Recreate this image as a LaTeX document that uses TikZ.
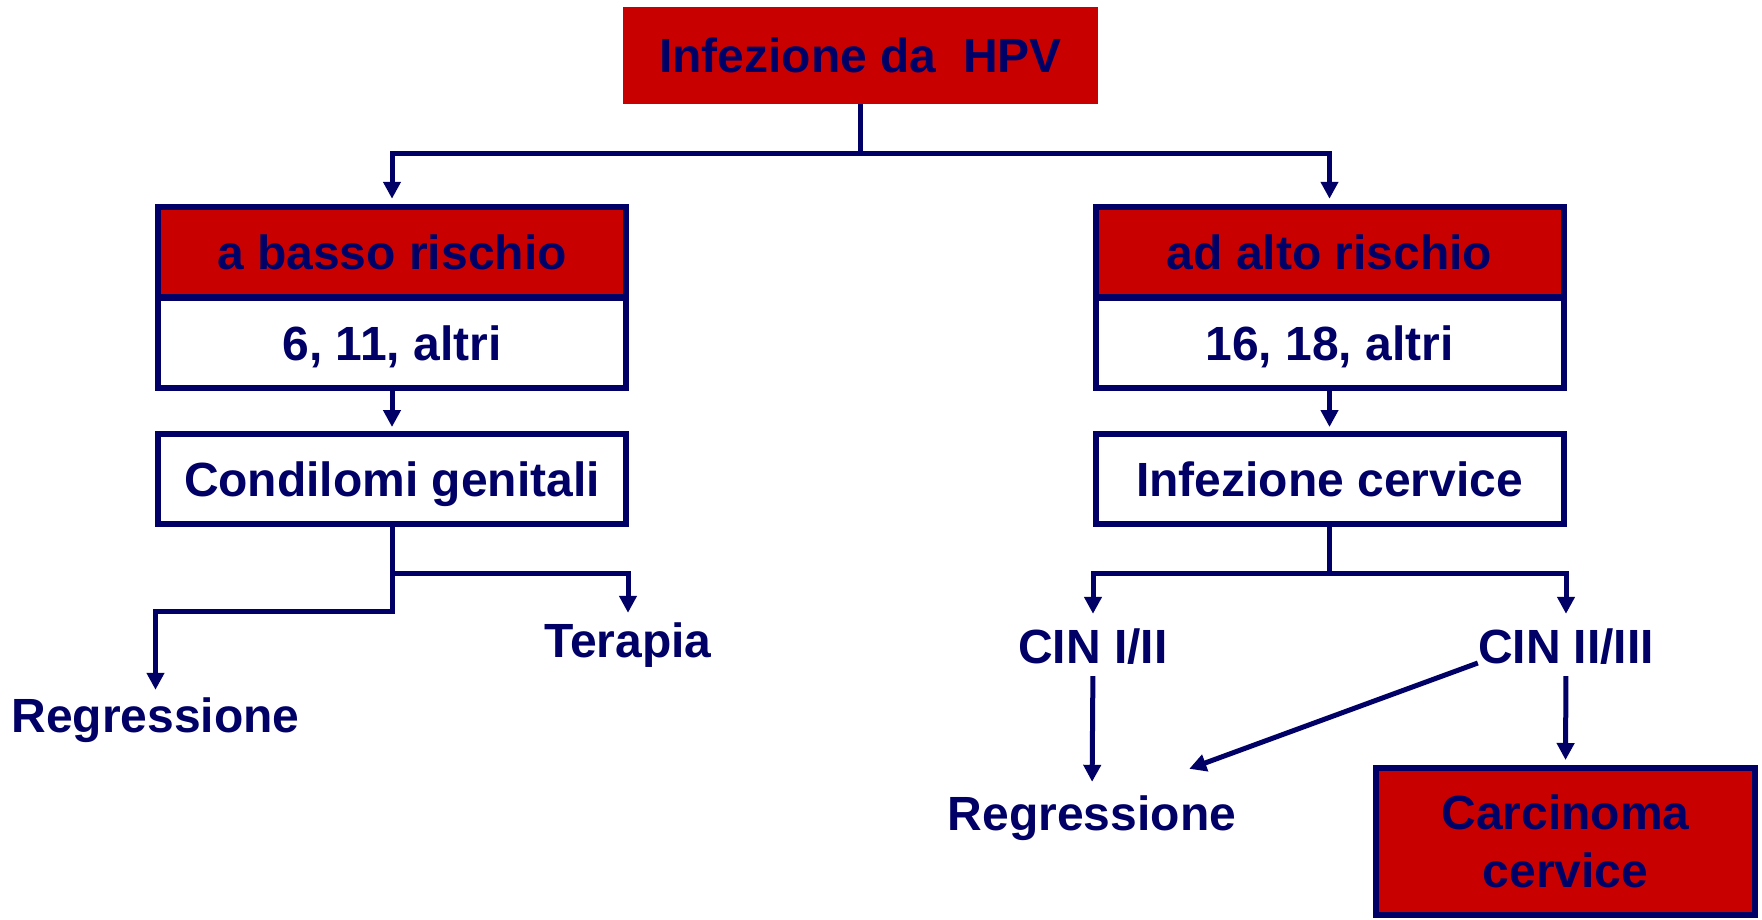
\documentclass[tikz,border=0pt]{standalone}
\usepackage{fontspec}
\setmainfont{Liberation Sans}
\usetikzlibrary{arrows.meta}
\definecolor{hred}{HTML}{C80000}
\definecolor{navy}{HTML}{000066}
\begin{document}
\begin{tikzpicture}[x=1pt,y=-1pt,
  every node/.style={font=\fontsize{48}{58}\selectfont\bfseries, text=navy, inner sep=0pt},
  lbl/.style={text height=34pt, text depth=0pt, anchor=base},
  box/.style={draw=navy, line width=6pt, fill=white, text height=34pt, text depth=0pt, minimum width=468pt, minimum height=90.5pt},
  hdr/.style={box, fill=hred},
  arr/.style={draw=navy, line width=5pt, -{Triangle[width=17pt,length=17pt]}}]
\useasboundingbox (0,0) rectangle (1762,919);
\fill[white] (0,0) rectangle (1762,919);
% boxes
\node[fill=hred, text height=34pt, text depth=0pt, minimum width=475pt, minimum height=97pt] (hpv) at (860.5,55.5) {Infezione da~ HPV};
\node[hdr] (low) at (392,252) {a basso rischio};
\node[box] (lownum) at (392,343) {6, 11, altri};
\node[box, minimum height=90pt] (cond) at (392,479) {Condilomi genitali};
\node[hdr] (high) at (1329.5,252) {ad alto rischio};
\node[box] (highnum) at (1329.5,343) {16, 18, altri};
\node[box, minimum height=90pt] (infc) at (1329.5,479) {Infezione cervice};
% free labels
\node[lbl] (ter) at (628,657) {Terapia};
\node[lbl] (regl) at (155.5,732) {Regressione};
\node[lbl] (cin1) at (1093,663) {CIN I/II};
\node[lbl] (cin2) at (1566,663) {CIN II/III};
\node[lbl] (regr) at (1092,830) {Regressione};
\node[draw=navy, fill=hred, line width=6pt, minimum width=379pt, minimum height=147pt, align=center] (carc) at (1565.5,841.5) {Carcinoma\\cervice};
% connectors
\draw[arr, shorten >=5pt] (hpv.south) -- ++(0,49) -| (low.north);
\draw[arr, shorten >=5pt] (hpv.south) -- ++(0,49) -| (high.north);
\draw[arr, shorten >=4pt] (lownum.south) -- (cond.north);
\draw[arr, shorten >=4pt] (highnum.south) -- (infc.north);
\draw[arr, shorten >=10pt] (cond.south) -- ++(0,46) -| (ter.north);
\draw[arr, shorten >=8pt] (cond.south) -- ++(0,84) -| (regl.north);
\draw[arr, shorten >=15pt] (infc.south) -- ++(0,46) -| (cin1.north);
\draw[arr, shorten >=15pt] (infc.south) -- ++(0,46) -| (cin2.north);
\draw[arr, shorten <=13pt, shorten >=14pt] (cin1.south) -- (regr.north);
\draw[arr, shorten <=13pt, shorten >=5pt] (cin2.south) -- (carc.north);
\draw[arr] (cin2.base west) -- ([xshift=-47pt,yshift=27pt]regr.north east);
\end{tikzpicture}
\end{document}
